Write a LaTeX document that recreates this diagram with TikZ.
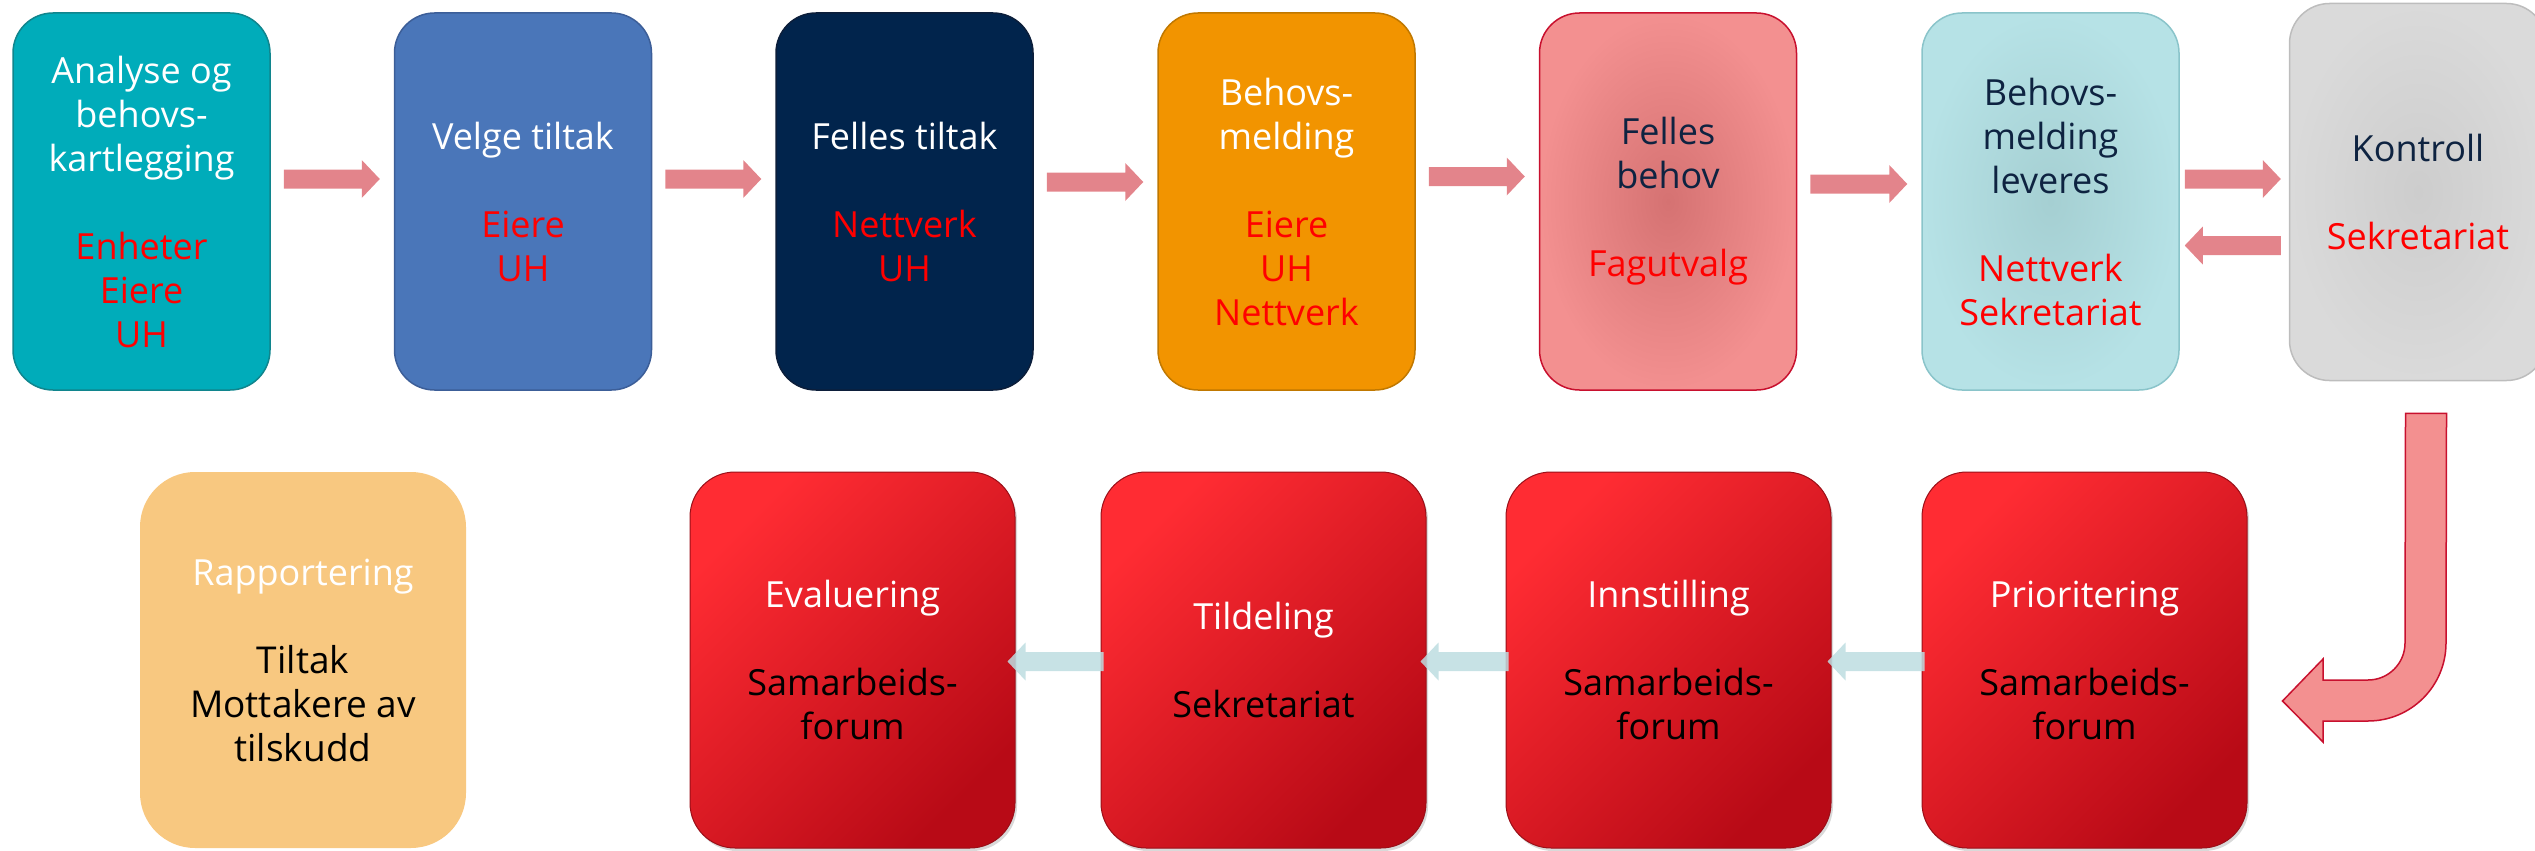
\documentclass[tikz,border=0pt]{standalone}
\usepackage{fontspec}
\setmainfont{Open Sans}
\usetikzlibrary{calc,shadows}
\definecolor{tealc}{HTML}{00ACBA}\definecolor{tealb}{HTML}{10858D}
\definecolor{bluec}{HTML}{4A76B9}\definecolor{blueb}{HTML}{3C5E98}
\definecolor{navyc}{HTML}{01244C}\definecolor{navyb}{HTML}{0C1E3A}
\definecolor{orangec}{HTML}{F29400}\definecolor{orangeb}{HTML}{C07800}
\definecolor{pinko}{HTML}{F39090}\definecolor{pinki}{HTML}{D57272}\definecolor{pinkb}{HTML}{C8102E}
\definecolor{cyano}{HTML}{B6E2E6}\definecolor{cyani}{HTML}{A5CFD2}\definecolor{cyanb}{HTML}{8AC4CA}
\definecolor{grayo}{HTML}{DADADA}\definecolor{grayi}{HTML}{CDCDCD}\definecolor{grayb}{HTML}{BDBDBD}
\definecolor{txtnavy}{HTML}{0E2341}
\definecolor{tred}{HTML}{FF0000}
\definecolor{arrpink}{HTML}{E3848B}
\definecolor{arrblue}{HTML}{BDDDE1}
\definecolor{lorange}{HTML}{F8C880}
\definecolor{redhi}{HTML}{FF2C33}\definecolor{redmid}{HTML}{F2242C}\definecolor{redlo}{HTML}{B80A16}\definecolor{redb}{HTML}{9A0F18}
\newcommand\redtx[1]{\textcolor{tred}{#1}}
\newcommand\navytx[1]{\textcolor{txtnavy}{#1}}
\newcommand\blk[1]{\textcolor{black}{#1}}
\newcommand\rblk[6]{%
  \coordinate (tl) at ($(#1.east)+(#4,#3)$);
  \coordinate (tp) at ($(#2.west |- #1.east)+(-#5,#3)$);
  \fill[#6] ($(tl)+(0,-9.5)$) -- ($(tp)+(-18,-9.5)$) -- ($(tp)+(-18,-19)$) -- (tp)
    -- ($(tp)+(-18,19)$) -- ($(tp)+(-18,9.5)$) -- ($(tl)+(0,9.5)$) -- cycle;}
\newcommand\lblk[6]{%
  \coordinate (tp) at ($(#1.east)+(#4,#3)$);
  \coordinate (tl) at ($(#2.west |- #1.east)+(#5,#3)$);
  \fill[#6] ($(tl)+(0,-9.5)$) -- ($(tp)+(18,-9.5)$) -- ($(tp)+(18,-19)$) -- (tp)
    -- ($(tp)+(18,19)$) -- ($(tp)+(18,9.5)$) -- ($(tl)+(0,9.5)$) -- cycle;}
\tikzset{
  box/.style={rounded corners=40, minimum width=257, minimum height=377, align=center,
    inner sep=0pt, line width=1.5pt, font=\fontsize{36}{44}\selectfont, text=white},
  redbox/.style={rounded corners=45, minimum width=325, minimum height=376, align=center,
    inner sep=0pt, line width=1pt, draw=redb, font=\fontsize{36}{44}\selectfont, text=white,
    top color=redhi, middle color=redmid, bottom color=redlo, shading angle=45,
    drop shadow={shadow xshift=2pt, shadow yshift=-3pt, opacity=0.3}},
  toparrow/.style={fill=arrpink},
  botarrow/.style={fill=arrblue, fill opacity=0.85},
}
\begin{document}
\begin{tikzpicture}[x=1pt,y=-1pt]
\useasboundingbox (0,0) rectangle (2535,851);
% top row
\node[box, fill=tealc, draw=tealb] (b1) at (141.5,201.5)
  {Analyse og\\behovs-\\kartlegging\\[44pt]\redtx{Enheter}\\\redtx{Eiere}\\\redtx{UH}};
\node[box, fill=bluec, draw=blueb] (b2) at (523,201.5)
  {Velge tiltak\\[44pt]\redtx{Eiere}\\\redtx{UH}};
\node[box, fill=navyc, draw=navyb] (b3) at (904.5,201.5)
  {Felles tiltak\\[44pt]\redtx{Nettverk}\\\redtx{UH}};
\node[box, fill=orangec, draw=orangeb] (b4) at (1286.5,201.5)
  {Behovs-\\melding\\[44pt]\redtx{Eiere}\\\redtx{UH}\\\redtx{Nettverk}};
\node[box, inner color=pinki, outer color=pinko, draw=pinkb, text=txtnavy] (b5) at (1668,201.5)
  {Felles\\behov\\[44pt]\redtx{Fagutvalg}};
\node[box, inner color=cyani, outer color=cyano, draw=cyanb, text=txtnavy] (b6) at (2050.5,201.5)
  {Behovs-\\melding\\leveres\\[44pt]\redtx{Nettverk}\\\redtx{Sekretariat}};
\node[box, inner color=grayi, outer color=grayo, draw=grayb, text=txtnavy] (b7) at (2418,192)
  {Kontroll\\[44pt]\redtx{Sekretariat}};
% bottom row
\node[rounded corners=55, minimum width=326, minimum height=376, fill=lorange, align=center,
  inner sep=0pt, font=\fontsize{36}{44}\selectfont, text=white] (r1) at (303,660)
  {Rapportering\\[44pt]\blk{\fontsize{37}{45}\selectfont Tiltak}\\\blk{\fontsize{37}{45}\selectfont Mottakere av}\\\blk{\fontsize{37}{45}\selectfont tilskudd}};
\node[redbox] (e1) at (852.5,660) {Evaluering\\[44pt]\blk{Samarbeids-}\\\blk{forum}};
\node[redbox] (t1) at (1263.5,660) {Tildeling\\[44pt]\blk{Sekretariat}};
\node[redbox] (i1) at (1668.5,660) {Innstilling\\[44pt]\blk{Samarbeids-}\\\blk{forum}};
\node[redbox] (p1) at (2084.5,660) {Prioritering\\[44pt]\blk{Samarbeids-}\\\blk{forum}};
% top arrows
\rblk{b1}{b2}{-22.5}{13}{14}{toparrow}
\rblk{b2}{b3}{-22.5}{13}{14}{toparrow}
\rblk{b3}{b4}{-19.5}{13}{14}{toparrow}
\rblk{b4}{b5}{-25}{13}{14}{toparrow}
\rblk{b5}{b6}{-17.5}{13}{14}{toparrow}
\rblk{b6}{b7}{-22.5}{5}{8}{toparrow}
\lblk{b6}{b7}{44}{5}{-8}{toparrow}
% bottom arrows
\lblk{e1}{t1}{1.5}{-8}{3}{botarrow}
\lblk{t1}{i1}{1.5}{-6}{3}{botarrow}
\lblk{i1}{p1}{1.5}{-4}{3}{botarrow}
% bent arrow from Kontroll to Prioritering
\coordinate (bend) at ($(b7.south)+(-12.5,32)$);
\path[draw=pinkb, line width=1.5pt, top color=pinko, middle color=pinki, bottom color=pinko, shading angle=25]
  (bend) -- ++(41,0) -- (2446,643) arc[start angle=0, end angle=90, radius=78]
  -- (2323,721) -- (2323,742) -- ($(p1.east)+(35,41)$) -- (2323,659) -- (2323,680) -- (2368,680)
  arc[start angle=90, end angle=0, radius=37] -- cycle;
\end{tikzpicture}
\end{document}
